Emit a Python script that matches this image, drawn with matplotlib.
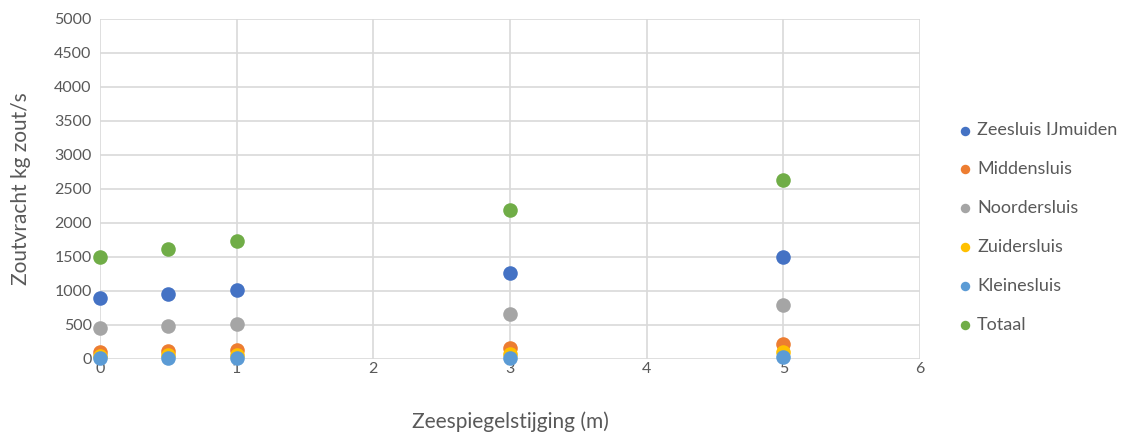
import matplotlib
matplotlib.use("Agg")
import matplotlib.pyplot as plt

plt.rcParams['font.family'] = ['Lato', 'DejaVu Sans']

# sea level rise scenarios (m)
stijging = [0, 0.5, 1, 3, 5]

# salt load per lock (kg zout/s)
zeesluis = [897, 956, 1015, 1265, 1500]
middensluis = [110, 125, 130, 165, 220]
noordersluis = [456, 485, 515, 662, 794]
zuidersluis = [50, 55, 60, 80, 110]
kleinesluis = [10, 10, 12, 20, 30]
totaal = [1500, 1618, 1735, 2191, 2632]

series = [
    ("Zeesluis IJmuiden", zeesluis, "#4472C4"),
    ("Middensluis", middensluis, "#ED7D31"),
    ("Noordersluis", noordersluis, "#A5A5A5"),
    ("Zuidersluis", zuidersluis, "#FFC000"),
    ("Kleinesluis", kleinesluis, "#5B9BD5"),
    ("Totaal", totaal, "#70AD47"),
]

fig = plt.figure(figsize=(11.31, 4.32), dpi=100)
ax = fig.add_axes([100 / 1131, 1 - 359 / 432, 820 / 1131, 340 / 432])

for name, vals, col in series:
    ax.scatter(stijging, vals, s=110, color=col, label=name, zorder=3, linewidths=0,
               clip_on=False)

ax.set_xlim(0, 6)
ax.set_ylim(0, 5000)
ax.set_xticks(range(0, 7))
ax.set_yticks(range(0, 5001, 500))
ax.grid(True, color="#d9d9d9", linewidth=1.2, zorder=0)
for sp in ax.spines.values():
    sp.set_visible(False)
ax.tick_params(axis="y", length=0, labelsize=11.5, colors="#595959", pad=6)
ax.tick_params(axis="x", length=0, labelsize=11.5, colors="#595959", pad=2)
ax.set_xlabel("Zeespiegelstijging (m)", fontsize=15, color="#595959", labelpad=26)
ax.set_ylabel("Zoutvracht kg zout/s", fontsize=15, color="#595959", labelpad=17)

leg = fig.legend(loc="upper left", bbox_to_anchor=(940 / 1131, 1 - 106 / 432), frameon=False,
                 fontsize=13, labelspacing=1.27, handletextpad=0.15, markerscale=0.65,
                 handlelength=1.0)
for t in leg.get_texts():
    t.set_color("#595959")

fig.savefig("out.png", dpi=100)
